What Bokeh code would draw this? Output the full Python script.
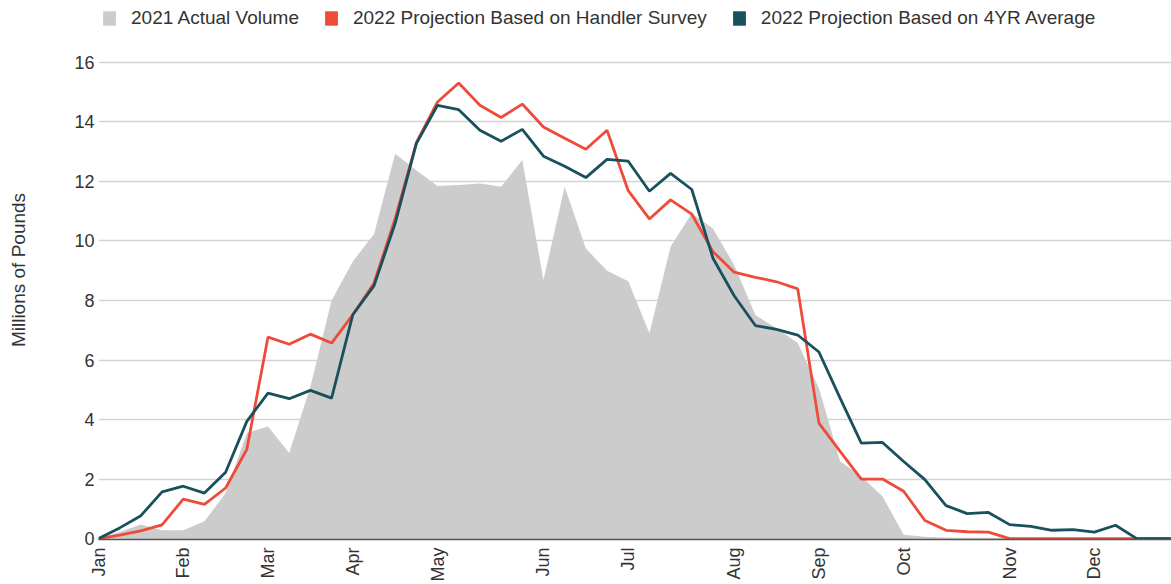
from bokeh.plotting import figure
from bokeh.models import Range1d, FixedTicker, Legend, LegendItem, ColumnDataSource
from bokeh.embed import file_html
from bokeh.resources import INLINE
import math

weeks = list(range(52))
actual_2021 = [0, 0.22, 0.47, 0.28, 0.28, 0.58, 1.53, 3.55, 3.77, 2.88,
               5.1, 8.0, 9.31, 10.23, 12.93, 12.38, 11.85, 11.88, 11.93, 11.82,
               12.72, 8.69, 11.82, 9.75, 9.0, 8.65, 6.9, 9.81, 10.93, 10.42,
               9.19, 7.51, 7.07, 6.57, 5.05, 2.6, 2.09, 1.42, 0.13, 0.06,
               0.03, 0, 0, 0, 0, 0, 0, 0, 0, 0, 0, 0]
handler_survey = [0, 0.12, 0.26, 0.46, 1.33, 1.15, 1.7, 3.0, 6.77, 6.53,
                  6.87, 6.57, 7.52, 8.58, 10.75, 13.3, 14.67, 15.31, 14.56, 14.15,
                  14.6, 13.83, 13.45, 13.08, 13.72, 11.69, 10.74, 11.38, 10.9, 9.64,
                  8.95, 8.78, 8.63, 8.39, 3.88, 2.93, 2.0, 2.0, 1.59, 0.61,
                  0.28, 0.23, 0.22, 0, 0, 0, 0, 0, 0, 0, 0, 0]
four_yr_avg = [0, 0.36, 0.77, 1.57, 1.76, 1.53, 2.23, 3.94, 4.89, 4.70,
               4.98, 4.72, 7.52, 8.49, 10.59, 13.27, 14.56, 14.41, 13.72, 13.35,
               13.75, 12.85, 12.51, 12.13, 12.74, 12.68, 11.67, 12.27, 11.73, 9.42,
               8.16, 7.16, 7.03, 6.84, 6.27, 4.72, 3.21, 3.23, 2.59, 1.98,
               1.11, 0.84, 0.88, 0.47, 0.41, 0.28, 0.30, 0.22, 0.45, 0,
               0, 0]
month_labels = ["Jan", "Feb", "Mar", "Apr", "May", "Jun", "Jul", "Aug", "Sep", "Oct", "Nov", "Dec"]
month_weeks = [0, 4, 8, 12, 16, 21, 25, 30, 34, 38, 43, 47]
y_ticks = [0, 2, 4, 6, 8, 10, 12, 14, 16]
series_labels = ["2021 Actual Volume", "2022 Projection Based on Handler Survey", "2022 Projection Based on 4YR Average"]

GRAY = "#cccccc"
RED = "#ee4b3a"
TEAL = "#18505b"
FONT = "Liberation Sans"

y_start = -0.03
y_end = 18.08

src = ColumnDataSource(dict(w=weeks, a=actual_2021, h=handler_survey, f=four_yr_avg,
                            base=[y_start] * len(weeks)))

p = figure(width=1171, height=584, output_backend="svg", toolbar_location=None,
           title=None, x_range=Range1d(0, 50.64), y_range=Range1d(y_start, y_end),
           min_border_left=98, min_border_right=0, min_border_top=0, min_border_bottom=30)
p.outline_line_color = None
p.background_fill_color = "white"

r_area = p.varea(x="w", y1="base", y2="a", source=src, fill_color=GRAY, fill_alpha=1)
r_red = p.line(x="w", y="h", source=src, line_color=RED, line_width=2.8)
r_teal = p.line(x="w", y="f", source=src, line_color=TEAL, line_width=2.8)

# legend swatches (legend-only renderers, nothing drawn in the plot)
nan = float("nan")
sw_src = ColumnDataSource(dict(l=[nan], r=[nan], b=[nan], t=[nan]))
sw1 = p.quad(left="l", right="r", bottom="b", top="t", source=sw_src, fill_color=GRAY, line_color=None)
sw2 = p.quad(left="l", right="r", bottom="b", top="t", source=sw_src, fill_color=RED, line_color=None)
sw3 = p.quad(left="l", right="r", bottom="b", top="t", source=sw_src, fill_color=TEAL, line_color=None)

legend = Legend(items=[LegendItem(label=series_labels[0], renderers=[sw1]),
                       LegendItem(label=series_labels[1], renderers=[sw2]),
                       LegendItem(label=series_labels[2], renderers=[sw3])],
                orientation="horizontal", location=(3, 510),
                margin=0, padding=0, spacing=24, label_standoff=14,
                glyph_width=16, glyph_height=18, label_height=18,
                label_text_font=FONT, label_text_font_size="19px", label_text_color="#333333",
                border_line_color=None, background_fill_alpha=0)
p.add_layout(legend)

p.xgrid.grid_line_color = None
p.ygrid.grid_line_color = "#d3d3d3"
p.ygrid.grid_line_width = 1.5
p.ygrid.ticker = FixedTicker(ticks=y_ticks)

p.xaxis.ticker = FixedTicker(ticks=month_weeks)
p.xaxis.major_label_overrides = {w: m for w, m in zip(month_weeks, month_labels)}
p.xaxis.major_label_orientation = math.pi / 2
p.xaxis.axis_line_color = "#555555"
p.xaxis.axis_line_width = 1.5
p.xaxis.major_tick_line_color = None
p.xaxis.minor_tick_line_color = None
p.xaxis.major_tick_out = 0
p.xaxis.major_tick_in = 0
p.xaxis.major_label_standoff = 8
p.xaxis.major_label_text_font = FONT
p.xaxis.major_label_text_font_size = "18px"
p.xaxis.major_label_text_color = "#333333"

p.yaxis.ticker = FixedTicker(ticks=y_ticks)
p.yaxis.axis_line_color = None
p.yaxis.major_tick_line_color = None
p.yaxis.minor_tick_line_color = None
p.yaxis.major_tick_out = 0
p.yaxis.major_tick_in = 0
p.yaxis.major_label_standoff = 4
p.yaxis.major_label_text_font = FONT
p.yaxis.major_label_text_font_size = "18px"
p.yaxis.major_label_text_color = "#333333"
p.yaxis.axis_label = "Millions of Pounds"
p.yaxis.axis_label_text_font = FONT
p.yaxis.axis_label_text_font_size = "19px"
p.yaxis.axis_label_text_font_style = "normal"
p.yaxis.axis_label_text_color = "#333333"
p.yaxis.axis_label_standoff = 42

open("out.html", "w").write(file_html(p, INLINE))
